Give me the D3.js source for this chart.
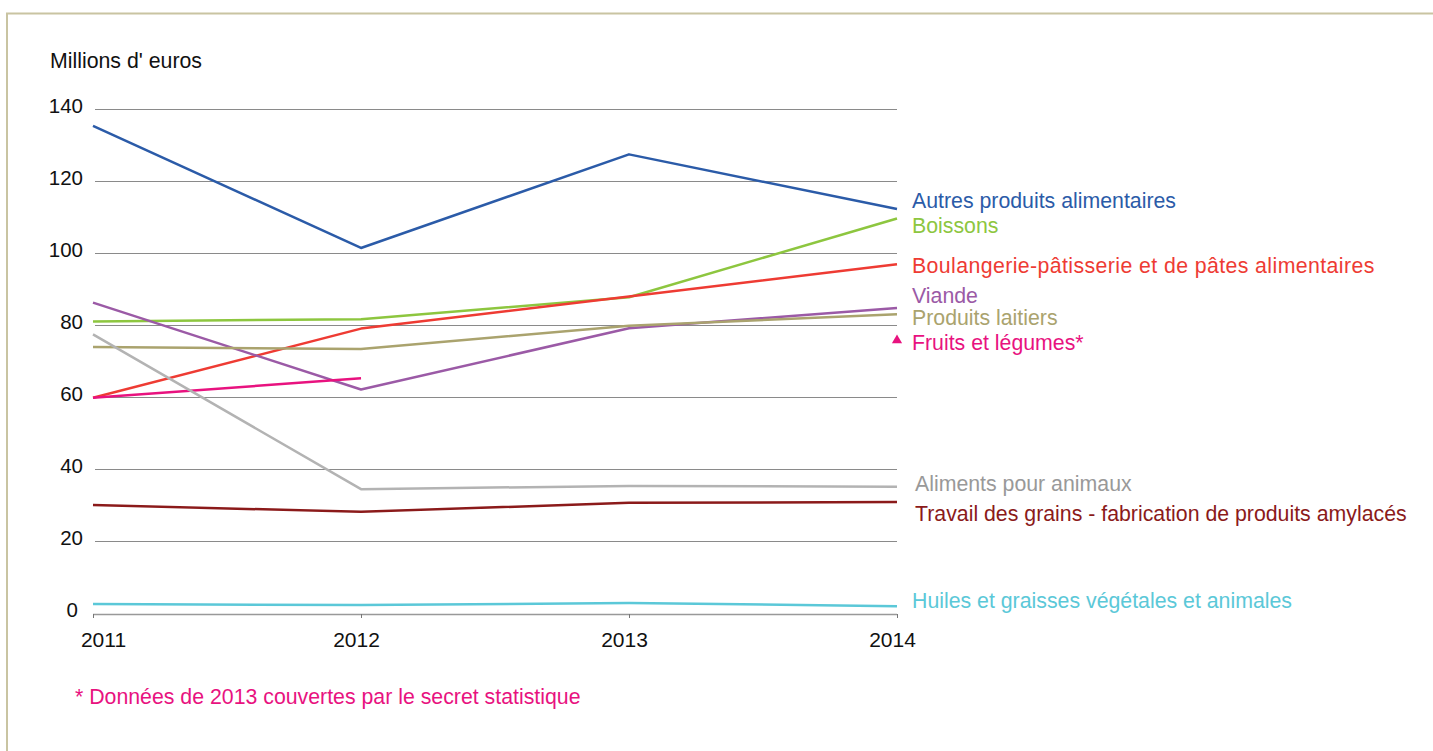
<!DOCTYPE html>
<html>
<head>
<meta charset="utf-8">
<script src="https://cdn.jsdelivr.net/npm/d3@7"></script>
<style>
  body { margin: 0; background: #fff; }
  svg { display: block; font-family: "Liberation Sans", Arial, sans-serif; }
</style>
</head>
<body>
<div id="chart"></div>
<script>
// data (millions d'euros)

var years = [2011, 2012, 2013, 2014];
var yTicks = [0, 20, 40, 60, 80, 100, 120, 140];

var autres      = [135.3, 101.4, 127.4, 112.2];
var boissons    = [81.0, 81.6, 87.7, 109.6];
var boulangerie = [59.8, 79.0, 87.9, 96.9];
var viande      = [86.2, 62.1, 79.1, 84.7];
var laitiers    = [73.9, 73.3, 79.8, 83.0];
var fruits      = [59.8, 65.2, null, 76.0];
var aliments    = [77.4, 34.4, 35.3, 35.1];
var grains      = [30.0, 28.1, 30.6, 30.8];
var huiles      = [2.5, 2.2, 2.8, 1.9];

var names = [
    "Autres produits alimentaires",
    "Boissons",
    "Boulangerie-pâtisserie et de pâtes alimentaires",
    "Viande",
    "Produits laitiers",
    "Fruits et légumes*",
    "Aliments pour animaux",
    "Travail des grains - fabrication de produits amylacés",
    "Huiles et graisses végétales et animales"
];
var values = [autres, boissons, boulangerie, viande, laitiers, fruits, aliments, grains, huiles];
var colors = ["#2b5ba8", "#8dc63f", "#ee3b33", "#9b5aa6", "#aaa36e", "#e8127f", "#b3b3b3", "#8b1a1a", "#5bc8d8"];
var labelColors = ["#2b5ba8", "#8dc63f", "#ee3b33", "#9b5aa6", "#aaa36e", "#e8127f", "#999999", "#8b1a1a", "#5bc8d8"];

// label placement at the right (pixels, picked to avoid overlaps)
var labelY = [201, 226, 266, 296, 318, 343, 484, 514, 601];
var labelX = [912, 912, 912, 912, 912, 912, 915, 915, 912];

var w = 1433,
    h = 751,
    svg = d3.select("#chart")
            .append("svg")
            .attr("width", w)
            .attr("height", h);

// frame
svg.append("path")
    .attr("d", "M7,751 V13.5 H1433")
    .attr("fill", "none")
    .attr("stroke", "#c9c4a2")
    .attr("stroke-width", 2);

var x = d3.scaleLinear()
    .domain([2011, 2014])
    .range([93, 897]);

var y = d3.scaleLinear()
    .domain([0, 140])
    .range([613, 109]);

// horizontal grid
svg.append("g")
    .selectAll("line")
    .data(yTicks.filter(function(d) { return d > 0; }))
    .enter().append("line")
    .attr("x1", 95)
    .attr("x2", 897)
    .attr("y1", function(d) { return Math.round(y(d)) + 0.5; })
    .attr("y2", function(d) { return Math.round(y(d)) + 0.5; })
    .attr("stroke", "#8a8a8a")
    .attr("stroke-width", 1);

// y labels
svg.append("g")
    .selectAll("text")
    .data(yTicks)
    .enter().append("text")
    .attr("x", function(d) { return d === 0 ? 78 : 83; })
    .attr("y", function(d) { return y(d) - 4; })
    .attr("text-anchor", "end")
    .attr("dominant-baseline", "central")
    .attr("font-size", "20.5px")
    .attr("fill", "#111")
    .text(function(d) { return d; });

// x axis
var xAxis = svg.append("g")
    .attr("transform", "translate(0,614)")
    .call(d3.axisBottom(x).tickValues(years).tickFormat(d3.format("d")).tickSize(4).tickPadding(14));
xAxis.select(".domain").attr("stroke", "#999").attr("stroke-width", 1.5).attr("d", "M93,0.5H897");
xAxis.selectAll(".tick line").attr("stroke", "#777");
xAxis.selectAll(".tick text")
    .attr("font-size", "21px")
    .attr("font-family", "Liberation Sans, Arial, sans-serif")
    .attr("fill", "#111")
    .attr("dx", function(d, i) { return i === 0 ? 10 : -5; });

// lines
var line = d3.line()
    .defined(function(d) { return d.v != null; })
    .x(function(d) { return x(d.year); })
    .y(function(d) { return y(d.v); });

values.forEach(function(vals, i) {
    var pts = years.map(function(yr, j) { return {year: yr, v: vals[j]}; });
    // the fruits series stops in 2012, 2014 is shown as a lone marker
    var drawn = i === 5 ? pts.slice(0, 2) : pts;
    svg.append("path")
        .datum(drawn)
        .attr("fill", "none")
        .attr("stroke", colors[i])
        .attr("stroke-width", 2.5)
        .attr("stroke-linejoin", "round")
        .attr("d", line);
});

// triangle for fruits 2014
svg.append("path")
    .attr("transform", "translate(" + x(2014) + "," + (y(fruits[3]) + 1) + ")")
    .attr("d", d3.symbol().type(d3.symbolTriangle).size(45))
    .attr("fill", colors[5]);

// series labels
svg.append("g")
    .selectAll("text")
    .data(names)
    .enter().append("text")
    .attr("x", function(d, i) { return labelX[i]; })
    .attr("y", function(d, i) { return labelY[i]; })
    .attr("dominant-baseline", "central")
    .attr("font-size", "21.3px")
    .attr("letter-spacing", function(d, i) { return i === 2 ? "0.4px" : null; })
    .attr("fill", function(d, i) { return labelColors[i]; })
    .text(function(d) { return d; });

// title and note
render_text("Millions d' euros", "21.3px", "#111", 50, 61);
render_text("* Données de 2013 couvertes par le secret statistique", "21.3px", "#e8127f", 75, 697);

function render_text(text, size, color, tx, ty) {
    svg.append("text")
        .attr("font-size", size)
        .attr("fill", color)
        .attr("x", tx)
        .attr("y", ty)
        .attr("dominant-baseline", "central")
        .text(text);
}
</script>
</body>
</html>
